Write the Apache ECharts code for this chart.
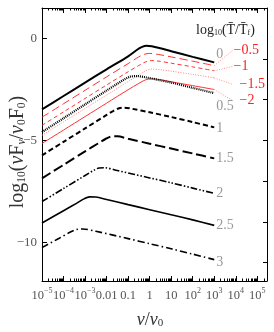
<!DOCTYPE html>
<html><head><meta charset="utf-8">
<script src="https://cdn.jsdelivr.net/npm/echarts@6/dist/echarts.min.js"></script>
<style>html,body{margin:0;padding:0;background:#fff}#c{width:274px;height:332px}</style>
</head><body><div id="c"></div>
<script>
// x values are log10(nu/nu0), y values are log10(nuF_nu / nu0F0)
const decadeTicks = [-5,-4,-3,-2,-1,0,1,2,3,4,5];
const decadeLabels = ['10^−5','10^−4','10^−3','0.01','0.1','1','10','10^2','10^3','10^4','10^5'];
const yTickValues = [0,-5,-10];
const yRightTicks = [-1,-3,-5,-7,-9,-11];

const curveT0   = [[-5,-3.48],[-4,-2.82],[-3,-2.16],[-2,-1.51],[-1,-0.87],[-0.6,-0.56],[-0.35,-0.41],[-0.15,-0.35],[0.1,-0.38],[0.5,-0.48],[1,-0.62],[2,-0.90],[3,-1.17]];
const curveT05  = [[-5,-4.59],[-4,-3.91],[-3,-3.23],[-2,-2.55],[-1.5,-2.22],[-1.15,-1.99],[-0.9,-1.87],[-0.6,-1.84],[-0.2,-1.90],[0.5,-2.05],[1,-2.16],[2,-2.42],[3,-2.68]];
const curveT1   = [[-5,-5.73],[-4,-5.07],[-3,-4.41],[-2,-3.75],[-1.7,-3.56],[-1.45,-3.43],[-1.2,-3.39],[-0.8,-3.45],[0,-3.62],[1,-3.85],[2,-4.10],[3,-4.36]];
const curveT15  = [[-5,-6.86],[-4,-6.20],[-3,-5.54],[-2.4,-5.15],[-2.05,-4.93],[-1.8,-4.81],[-1.5,-4.80],[-1,-4.92],[0,-5.16],[1,-5.40],[2,-5.64],[3,-5.88]];
const curveT2   = [[-5,-8.00],[-4,-7.36],[-3,-6.72],[-2.6,-6.47],[-2.35,-6.35],[-2.1,-6.34],[-1.5,-6.48],[0,-6.84],[1,-7.08],[2,-7.34],[3,-7.60]];
const curveT25  = [[-5,-9.05],[-4,-8.45],[-3.4,-8.09],[-3.05,-7.87],[-2.8,-7.77],[-2.5,-7.78],[-2,-7.90],[-1,-8.15],[0,-8.40],[1,-8.65],[2,-8.90],[3,-9.17]];
const curveT3   = [[-5,-10.26],[-4.2,-9.80],[-3.7,-9.51],[-3.4,-9.37],[-3.1,-9.35],[-2.5,-9.46],[-1,-9.82],[0,-10.07],[1,-10.32],[2,-10.58],[3,-10.85]];
const curveTm05 = [[-5,-3.86],[-4,-3.20],[-3,-2.54],[-2,-1.88],[-1,-1.23],[-0.6,-0.96],[-0.3,-0.79],[0,-0.73],[0.4,-0.78],[1,-0.90],[2,-1.11],[3,-1.33]];
const curveTm1  = [[-5,-4.26],[-4,-3.60],[-3,-2.94],[-2,-2.28],[-1,-1.63],[-0.5,-1.32],[-0.2,-1.15],[0.1,-1.08],[0.5,-1.12],[1,-1.21],[2,-1.39],[3,-1.58]];
const curveTm15 = [[-5,-4.75],[-4,-4.09],[-3,-3.43],[-2,-2.77],[-1,-2.11],[-0.5,-1.79],[-0.2,-1.59],[0.1,-1.50],[0.5,-1.53],[1,-1.60],[2,-1.76],[3,-1.93]];
const curveTm2  = [[-5,-5.15],[-4,-4.49],[-3,-3.83],[-2,-3.17],[-1,-2.51],[-0.5,-2.20],[-0.2,-2.03],[0.1,-1.97],[0.5,-2.02],[1,-2.12],[2,-2.31],[3,-2.50]];

const blackNames = ['0','0.5','1','1.5','2','2.5','3'];
const redNames = ['−0.5','−1','−1.5','−2'];
const redLabelY = [-0.59,-1.37,-2.25,-3.04];

const SERIF = "'Liberation Serif','DejaVu Serif',serif";
const minorTicks = [];
for (let n = -5; n <= 5; n++) for (let k = 2; k <= 9; k++) { const v = n + Math.log10(k); if (v < 5.45) minorTicks.push(v); }

const blackData = [curveT0, curveT05, curveT1, curveT15, curveT2, curveT25, curveT3];
const blackStyles = [
  {type:'solid', width:2},
  {type:[1,1], width:2.2},
  {type:[5,3], width:2},
  {type:[10,4], width:2},
  {type:[7,2,1.5,2,1.5,2], width:1.6},
  {type:'solid', width:1.6},
  {type:[7,3,1.5,3], width:1.6}
];
const blackLabelOffset = [[0,-8],[0,13],[0,1],[0,0],[0,0],[0,0],[0,3]];
const redLabelOffset = [[0,0],[0,0],[6,0],[6,0]];
const redData = [curveTm05, curveTm1, curveTm15, curveTm2];
const redStyles = [
  {type:[8,4], width:1, color:'#ff3030'},
  {type:[4,3], width:1, color:'#ff3030'},
  {type:[1,1.5], width:1, color:'#ff8080'},
  {type:'solid', width:1, color:'#ff3030'}
];

const series = [];
blackData.forEach((d, i) => {
  series.push({
    type:'line', name: blackNames[i], data: d, smooth: 0.3, symbol:'none',
    lineStyle: Object.assign({color:'#000'}, blackStyles[i]),
    endLabel: {show:true, formatter: blackNames[i], color:'#999', fontFamily: SERIF, fontSize:14, distance:2, offset: blackLabelOffset[i]},
    z: 3
  });
});
redData.forEach((d, i) => {
  series.push({
    type:'line', name: 'r'+i, data: d, smooth: 0.3, symbol:'none',
    lineStyle: redStyles[i], z: 2
  });
  const end = d[d.length-1];
  series.push({
    type:'line', name: 'leader'+i, data: [end, [3.85, redLabelY[i]]], symbol:'none',
    lineStyle: {color:'#ff9090', type:[1,1.5], width:1},
    endLabel: {show:true, formatter: redNames[i], color:'#ff2020', fontFamily: SERIF, fontSize:14, distance:1, align:'left', offset: redLabelOffset[i]},
    labelLayout: {hideOverlap:false},
    z: 2
  });
});

const xCommon = {type:'value', min:-5, max:5.45, splitLine:{show:false}, gridIndex:0};
const option = {
  animation: false,
  grid: {left:42, right:7, top:8, bottom:51, containLabel:false},
  xAxis: [
    Object.assign({}, xCommon, {position:'bottom',
      axisLine:{show:true, onZero:false, lineStyle:{color:'#000', width:1}},
      axisTick:{show:true, inside:true, length:5, customValues: decadeTicks, lineStyle:{color:'#000'}},
      axisLabel:{show:true, customValues: decadeTicks, margin:6,
        formatter: v => { const i = decadeTicks.indexOf(Math.round(v)); const s = decadeLabels[i];
          if (s.indexOf('^') >= 0) { const p = s.split('^'); return '{b|'+p[0]+'}{s|'+p[1]+'}'; }
          return '{b|'+s+'}'; },
        rich: { b:{fontFamily:SERIF, fontSize:12.5, color:'#555', lineHeight:15, verticalAlign:'bottom'},
                s:{fontFamily:SERIF, fontSize:8, color:'#555', lineHeight:15, verticalAlign:'top'} } } }),
    Object.assign({}, xCommon, {position:'bottom', axisLine:{show:false, onZero:false},
      axisTick:{show:true, inside:true, length:2.5, customValues: minorTicks, lineStyle:{color:'#000'}},
      axisLabel:{show:false}}),
    Object.assign({}, xCommon, {position:'top',
      axisLine:{show:true, onZero:false, lineStyle:{color:'#000', width:1}},
      axisTick:{show:true, inside:true, length:5, customValues: decadeTicks, lineStyle:{color:'#000'}},
      axisLabel:{show:false}}),
    Object.assign({}, xCommon, {position:'top', axisLine:{show:false, onZero:false},
      axisTick:{show:true, inside:true, length:2.5, customValues: minorTicks, lineStyle:{color:'#000'}},
      axisLabel:{show:false}})
  ],
  yAxis: [
    {type:'value', min:-11.9, max:1.5, position:'left', splitLine:{show:false},
      axisLine:{show:true, onZero:false, lineStyle:{color:'#000', width:1}},
      axisTick:{show:true, inside:true, length:5, customValues: yTickValues, lineStyle:{color:'#000'}},
      axisLabel:{show:true, customValues: yTickValues, margin:5, fontFamily:SERIF, fontSize:13, color:'#555',
        formatter: v => String(v).replace('-', '−')}},
    {type:'value', min:-11.9, max:1.5, position:'right', splitLine:{show:false},
      axisLine:{show:true, onZero:false, lineStyle:{color:'#000', width:1}},
      axisTick:{show:true, inside:true, length:4, customValues: yRightTicks, lineStyle:{color:'#000'}},
      axisLabel:{show:false}}
  ],
  series: series,
  graphic: [
    {type:'text', left:196, top:23, z:10, style:{
      text:'{n|log}{s|10}{n|(T̄/T̄}{s|f}{n|)}',
      rich:{ n:{fontFamily:SERIF, fontSize:14, fill:'#222', lineHeight:17, verticalAlign:'bottom'},
             s:{fontFamily:SERIF, fontSize:8, fill:'#222', lineHeight:17, verticalAlign:'bottom'} } }},
    {type:'text', x:5, y:152, rotation: Math.PI/2, z:10, style:{
      text:'{n|log}{s|10}{n|(}{i|ν}{n|F}{si|ν}{n|/}{i|ν}{s|0}{n|F}{s|0}{n|)}',
      align:'center', verticalAlign:'top',
      rich:{ n:{fontFamily:SERIF, fontSize:20, fill:'#333', lineHeight:23, verticalAlign:'bottom'},
             i:{fontFamily:SERIF, fontStyle:'italic', fontSize:20, fill:'#333', lineHeight:23, verticalAlign:'bottom'},
             s:{fontFamily:SERIF, fontSize:11.5, fill:'#333', lineHeight:23, verticalAlign:'bottom'},
             si:{fontFamily:SERIF, fontStyle:'italic', fontSize:11.5, fill:'#333', lineHeight:23, verticalAlign:'bottom'} } }},
    {type:'text', x:150, y:308, z:10, style:{
      text:'{i|ν}{n|/}{i|ν}{s|0}', align:'center',
      rich:{ n:{fontFamily:SERIF, fontSize:18, fill:'#333', lineHeight:21, verticalAlign:'bottom'},
             i:{fontFamily:SERIF, fontStyle:'italic', fontSize:18, fill:'#333', lineHeight:21, verticalAlign:'bottom'},
             s:{fontFamily:SERIF, fontSize:11, fill:'#333', lineHeight:21, verticalAlign:'bottom'} } }}
  ]
};
const chart = echarts.init(document.getElementById('c'), null, {renderer:'canvas'});
chart.setOption(option);
</script></body></html>
